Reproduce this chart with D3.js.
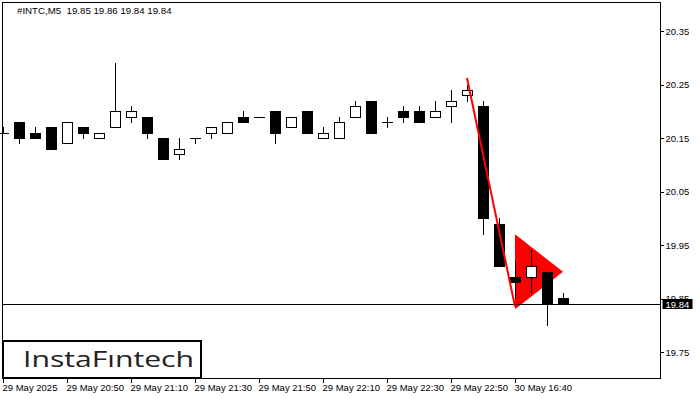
<!DOCTYPE html>
<html><head><meta charset="utf-8">
<script src="https://cdn.jsdelivr.net/npm/d3@7"></script>
<style>
html,body{margin:0;padding:0;background:#fff;}
svg{display:block;}
</style>
</head><body>
<svg id="c" width="700" height="400"></svg>
<script>
// ---- data ----
const symbolTitle = "#INTC,M5  19.85 19.86 19.84 19.84";
const opens  = [20.16,20.18,20.16,20.17,20.14,20.17,20.15,20.17,20.19,20.19,20.15,20.12,20.15,20.16,20.16,20.19,20.19,20.20,20.17,20.20,20.15,20.15,20.19,20.22,20.18,20.20,20.20,20.19,20.21,20.23,20.21,19.99,19.89,19.89,19.90,19.85];
const highs  = [20.17,20.18,20.17,20.17,20.18,20.17,20.16,20.29,20.21,20.19,20.15,20.15,20.15,20.17,20.18,20.20,20.19,20.20,20.19,20.20,20.17,20.19,20.22,20.22,20.19,20.21,20.21,20.22,20.24,20.25,20.22,20.00,19.92,19.94,19.90,19.86];
const lows   = [20.16,20.14,20.15,20.13,20.14,20.15,20.15,20.17,20.18,20.15,20.11,20.11,20.14,20.15,20.16,20.18,20.19,20.14,20.17,20.16,20.15,20.15,20.19,20.16,20.17,20.18,20.18,20.19,20.18,20.22,19.97,19.91,19.85,19.86,19.80,19.84];
const closes = [20.16,20.15,20.15,20.13,20.18,20.16,20.16,20.20,20.20,20.16,20.11,20.13,20.15,20.17,20.18,20.18,20.19,20.16,20.19,20.16,20.16,20.18,20.21,20.16,20.18,20.19,20.18,20.20,20.22,20.24,20.00,19.91,19.88,19.91,19.84,19.84];
const timeTickIdx    = [0,4,8,12,16,20,24,28,32];
const timeTickLabels = ["29 May 2025","29 May 20:50","29 May 21:10","29 May 21:30","29 May 21:50","29 May 22:10","29 May 22:30","29 May 22:50","30 May 16:40"];
const priceTicks = [20.35,20.25,20.15,20.05,19.95,19.85,19.75];
const lastPrice = 19.84;
// pattern: pole line (index, price) and pennant triangle
const poleIdx = [29,32], polePrice = [20.262,19.835];
const pennantIdx = [32,32,35], pennantPrice = [19.97,19.83,19.90];
const logoText = "InstaFıntech";

// ---- layout ----
const L = 2.5, R = 660.5, T = 2.5, B = 378.5;
const font = "'Liberation Sans', Arial, sans-serif";
const svg = d3.select("#c");
const x = d3.scaleLinear().domain([0,35]).range([3,563]);
const y = d3.scaleLinear().domain([19.75,20.35]).range([352,31]);

svg.append("rect").attr("width",700).attr("height",400).attr("fill","#fff");

const plot = svg.append("g");

// pennant triangle (under candles)
plot.append("polygon")
  .attr("points", pennantIdx.map((d,i)=>[x(d), y(pennantPrice[i])].join(",")).join(" "))
  .attr("fill","#ff0000");

// last price line
plot.append("line").attr("x1",L).attr("x2",R)
  .attr("y1",Math.round(y(lastPrice))+0.5).attr("y2",Math.round(y(lastPrice))+0.5)
  .attr("stroke","#000").attr("stroke-width",1).attr("shape-rendering","crispEdges");

// candles
const data = opens.map((o,i)=>({i,o,h:highs[i],l:lows[i],c:closes[i]}));
const cg = plot.append("g").attr("shape-rendering","crispEdges");
data.forEach(d=>{
  const cx = Math.round(x(d.i)) + 0.5;
  const g = cg.append("g");
  g.append("line").attr("x1",cx).attr("x2",cx)
    .attr("y1",Math.round(y(d.h))).attr("y2",Math.round(y(d.l))+1)
    .attr("stroke","#000");
  const top = Math.round(y(Math.max(d.o,d.c)));
  const bot = Math.round(y(Math.min(d.o,d.c)));
  if (bot - top < 1) {
    g.append("line").attr("x1",cx-5.5).attr("x2",cx+5.5)
      .attr("y1",top+0.5).attr("y2",top+0.5).attr("stroke","#000");
  } else {
    g.append("rect").attr("x",cx-5).attr("width",10)
      .attr("y",top+0.5).attr("height",bot-top)
      .attr("fill", d.c >= d.o ? "#fff" : "#000").attr("stroke","#000");
  }
});

// pole line
plot.append("line")
  .attr("x1",x(poleIdx[0])).attr("y1",y(polePrice[0]))
  .attr("x2",x(poleIdx[1])).attr("y2",y(polePrice[1]))
  .attr("stroke","#ff0000").attr("stroke-width",2);

// frame
svg.append("rect").attr("x",L).attr("y",T).attr("width",R-L).attr("height",B-T)
  .attr("fill","none").attr("stroke","#000").attr("shape-rendering","crispEdges");

// right axis
const ay = svg.append("g").attr("transform",`translate(${R},0)`)
  .call(d3.axisRight(y).tickValues(priceTicks).tickFormat(d3.format(".2f")).tickSize(3).tickPadding(2));
ay.select(".domain").remove();
ay.selectAll("line").attr("shape-rendering","crispEdges");
ay.selectAll("text").attr("font-family",font).attr("font-size","9.5px").attr("fill","#000");

// bottom axis
const ax = svg.append("g").attr("transform",`translate(0,${B})`)
  .call(d3.axisBottom(x).tickValues(timeTickIdx)
    .tickFormat((d,i)=>timeTickLabels[i]).tickSize(4).tickPadding(2));
ax.select(".domain").remove();
ax.selectAll("line").attr("shape-rendering","crispEdges");
ax.selectAll("text").attr("font-family",font).attr("font-size","9.5px").attr("fill","#000")
  .attr("text-anchor","start").attr("dx","-1");

// last price label
const ly = Math.round(y(lastPrice));
svg.append("rect").attr("x",R+2).attr("y",ly-5).attr("width",30).attr("height",10).attr("fill","#000");
svg.append("text").attr("x",R+5).attr("y",ly+4).attr("font-family",font).attr("font-size","9.5px")
  .attr("fill","#fff").text(lastPrice.toFixed(2));

// title
svg.append("text").attr("x",17).attr("y",13.5).attr("font-family",font).attr("font-size","9.7px")
  .attr("fill","#000").attr("xml:space","preserve").style("white-space","pre").text(symbolTitle);

// logo
svg.append("rect").attr("x",3).attr("y",341).attr("width",198).attr("height",37)
  .attr("fill","#fff").attr("stroke","#000").attr("stroke-width",2);
svg.append("text").attr("x",23).attr("y",367).attr("font-family","'Open Sans', sans-serif")
  .attr("font-weight",500).attr("font-size","21px").attr("fill","#222")
  .attr("textLength",171).attr("lengthAdjust","spacingAndGlyphs").text(logoText);
</script>
</body></html>
